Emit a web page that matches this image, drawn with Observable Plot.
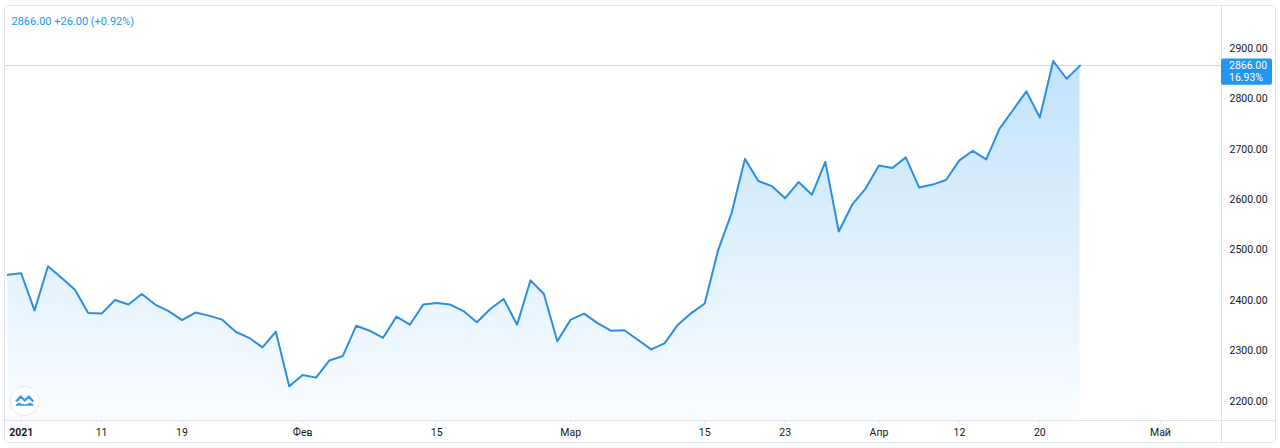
<!DOCTYPE html>
<html><head><meta charset="utf-8">
<script src="https://cdn.jsdelivr.net/npm/d3@7"></script>
<script src="https://cdn.jsdelivr.net/npm/@observablehq/plot@0.6"></script>
<style>
html,body{margin:0;padding:0;background:#fff;}
#chart{position:relative;width:1280px;height:448px;}
#chart svg [aria-label^="x-axis"] line, #chart svg [aria-label^="x-axis"] path,
#chart svg [aria-label^="y-axis"] line, #chart svg [aria-label^="y-axis"] path {stroke:#dfe2e8;}
#chart svg [aria-label^="x-axis"] text, #chart svg [aria-label^="y-axis"] text {fill:#131722;}
</style></head><body><div id="chart"></div>
<script>
// Daily closes, trading-day index 0..80
const values = [
  2451, 2454, 2380, 2468, 2445, 2422, 2375, 2374, 2401, 2392,
  2413, 2392, 2379, 2361, 2376, 2370, 2362, 2338, 2326, 2307,
  2338, 2230, 2252, 2247, 2281, 2290, 2350, 2340, 2326, 2368,
  2352, 2392, 2395, 2392, 2379, 2357, 2383, 2403, 2352, 2440,
  2413, 2319, 2362, 2374, 2355, 2340, 2341, 2322, 2303, 2315,
  2352, 2375, 2394, 2500, 2573, 2681, 2637, 2627, 2603, 2635,
  2610, 2675, 2537, 2590, 2622, 2668, 2663, 2684, 2624, 2630,
  2639, 2678, 2697, 2680, 2741, 2778, 2815, 2763, 2875, 2840,
  2866
];
// x-axis ticks (trading-day index) and labels
const tickIndex = [1, 7, 13, 22, 32, 42, 52, 58, 65, 71, 77, 86];
const tickLabels = ["2021", "11", "19", "Фев", "15", "Мар", "15", "23", "Апр", "12", "20", "Май"];
// y-axis ticks
const yTicks = [2200, 2300, 2400, 2500, 2600, 2700, 2800, 2900];

const xDomain = [-0.17, 90.63];
const yDomain = [2161.9, 2985.3];

const data = values.map((v, i) => ({i, v}));
const last = values[values.length - 1];
const prev = values[values.length - 2];
const change = last - prev;
const pct = change / prev * 100;
const total = (last / values[0] - 1) * 100;
const fmt2 = d3.format(".2f");
const sign = x => (x >= 0 ? "+" : "") + fmt2(x);
const legend = `${fmt2(last)} ${sign(change)} (${sign(pct)}%)`;

const blue = "#2196f3";
const lineBlue = "#2a8fe4";
const font = "Roboto, 'Liberation Sans', sans-serif";

const chart = Plot.plot({
  width: 1280, height: 448,
  marginLeft: 5, marginRight: 58, marginTop: 5, marginBottom: 28,
  style: {fontFamily: font, fontSize: "10.5px", color: "#131722", background: "transparent", overflow: "visible"},
  x: {domain: xDomain, ticks: tickIndex, tickFormat: d => tickLabels[tickIndex.indexOf(d)], tickSize: 3, tickPadding: 5, label: null, axis: "bottom"},
  y: {domain: yDomain, axis: "right", ticks: yTicks, tickFormat: fmt2, tickSize: 3, tickPadding: 4, label: null},
  marks: [
    Plot.areaY(data, {x: "i", y1: yDomain[0], y2: "v", fill: "url(#areaGrad)"}),
    Plot.ruleY([last], {stroke: "#bcdcf6", strokeWidth: 1}),
    Plot.lineY(data, {x: "i", y: "v", stroke: lineBlue, strokeWidth: 2, strokeLinejoin: "round"}),
    Plot.text([legend], {frameAnchor: "top-left", dx: 6, dy: 12, fill: blue, fontSize: 11, textAnchor: "start", lineAnchor: "top"})
  ]
});

document.getElementById("chart").appendChild(chart);
const svg = d3.select(chart);

svg.insert("defs", ":first-child").html(
  `<linearGradient id="areaGrad" gradientUnits="userSpaceOnUse" x1="0" y1="55" x2="0" y2="420">
     <stop offset="0" stop-color="${blue}" stop-opacity="0.28"/>
     <stop offset="1" stop-color="${blue}" stop-opacity="0.02"/>
   </linearGradient>`);

// bold year label
svg.selectAll("text").filter(function() { return this.textContent === "2021"; }).attr("font-weight", "bold");

// frame and separators
const g = svg.append("g");
g.append("rect").attr("x", 4.5).attr("y", 5.5).attr("width", 1271).attr("height", 437).attr("rx", 4)
  .attr("fill", "none").attr("stroke", "#e0e3eb");
g.append("line").attr("x1", 4.5).attr("x2", 1275.5).attr("y1", 420.5).attr("y2", 420.5).attr("stroke", "#e0e3eb");
g.append("line").attr("x1", 1221.5).attr("x2", 1221.5).attr("y1", 5.5).attr("y2", 442.5).attr("stroke", "#e0e3eb");

// price label box
let ys = chart.scale && chart.scale("y");
const yPix = ys && ys.apply ? ys.apply(last) : d3.scaleLinear(yDomain, [420, 5])(last);
const box = svg.append("g").attr("font-family", font).attr("font-size", "10.5px").attr("text-anchor", "start");
box.append("rect").attr("x", 1221).attr("y", yPix - 6.6).attr("width", 51).attr("height", 26.3).attr("rx", 2).attr("fill", blue);
box.append("text").attr("x", 1229).attr("y", yPix + 0.5).attr("dy", "0.35em").attr("fill", "#fff").text(fmt2(last));
box.append("text").attr("x", 1229).attr("y", yPix + 11.8).attr("dy", "0.35em").attr("fill", "#fff").text(fmt2(total) + "%");

// logo
const logo = svg.append("g").attr("transform", "translate(24.7,401)");
logo.append("circle").attr("r", 14.5).attr("fill", "#fff").attr("stroke", "#ece9e4").attr("stroke-width", 1);
logo.append("path").attr("d", "M-8.5,0.5 L-4,-4.5 L0,-0.5 L4,-4.5 L8.5,0.5").attr("fill", "none").attr("stroke", "#3d9be6").attr("stroke-width", 2.4).attr("stroke-linejoin", "round");
logo.append("path").attr("d", "M-9,4.8 C-8,1.8 -5.5,1 -3.8,2.6 L0,3.6 L3.8,2.6 C5.5,1 8,1.8 9,4.8 Z").attr("fill", "#3d9be6");
</script>
</body></html>
